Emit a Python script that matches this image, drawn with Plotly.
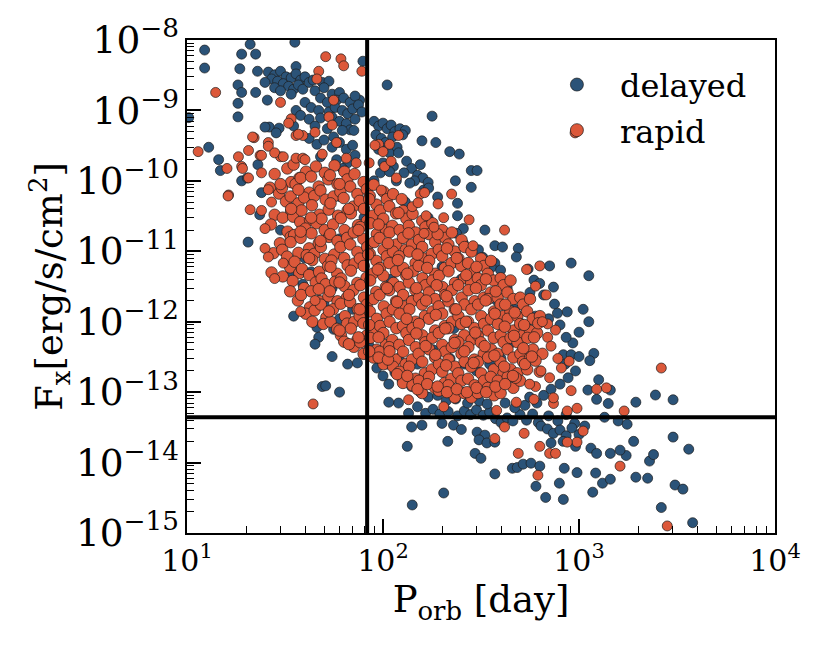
import plotly.graph_objects as go

# X-ray flux vs orbital period, two supernova engine models
# values are (P_orb [day], F_x [erg/s/cm^2])

P_CUT = 83.0       # vertical cut in period
FX_CUT = 4.4e-14   # horizontal flux limit

delayed_upper = [
    (12.3, 7.2e-9), (12.3, 4.0e-9), (19, 6.3e-9), (22.4, 6.3e-9), (21, 8.7e-9), (18.6, 3.9e-9),
    (22.9, 3.6e-9), (18.2, 2.3e-9), (19, 1.8e-9), (22.4, 1.8e-9), (18.2, 1.26e-9), (35.5, 9.3e-9),
    (79, 5.0e-9), (36, 4.2e-9), (25.7, 1.4e-9), (105, 2.3e-9), (76, 1.4e-9),
    (26, 3.5e-9), (28, 3.2e-9), (30, 3.6e-9), (32, 3.0e-9), (27, 2.8e-9), (29, 2.6e-9), (31, 2.4e-9),
    (34, 2.9e-9), (36, 3.3e-9), (38, 2.7e-9), (33, 2.2e-9), (35, 2.0e-9), (25, 2.5e-9), (28, 2.1e-9),
    (37, 2.3e-9), (39, 2.0e-9), (30, 1.9e-9), (34, 1.7e-9), (40, 3.0e-9), (42, 2.5e-9), (44, 2.7e-9),
    (49, 2.5e-9), (53, 2.6e-9),
    (45, 1.9e-9), (50, 2.1e-9), (55, 1.7e-9), (60, 1.8e-9), (48, 1.5e-9), (52, 1.3e-9), (58, 1.4e-9),
    (63, 1.5e-9), (68, 1.3e-9), (72, 1.6e-9), (40, 1.3e-9), (43, 1.1e-9), (47, 1.0e-9), (53, 9.5e-10),
    (57, 1.1e-9), (62, 1.0e-9), (66, 9.0e-10), (70, 1.05e-9), (75, 1.2e-9), (78, 9.5e-10), (36, 1.0e-9),
    (38, 8.5e-10), (42, 7.5e-10), (48, 7.8e-10), (55, 8.0e-10), (60, 7.0e-10), (65, 6.5e-10),
    (72, 7.5e-10), (35, 6.0e-10), (45, 6.0e-10), (52, 5.5e-10), (68, 5.3e-10),
    (10.2, 7.9e-10), (12.9, 3.0e-10), (14.5, 2.0e-10), (14.8, 1.4e-10), (23, 1.7e-10), (19, 1.0e-10),
    (24, 6.8e-11), (18.2, 8.1e-10), (26.3, 5.8e-10), (29.5, 5.6e-10), (20.3, 1.1e-10), (23.5, 3.3e-11),
    (20.5, 1.35e-11), (25, 5.8e-10), (28.5, 4.8e-10),
    (42, 4.0e-10), (46, 3.3e-10), (50, 3.8e-10), (55, 3.0e-10), (60, 3.5e-10), (65, 2.8e-10),
    (70, 3.2e-10), (48, 2.2e-10), (58, 2.0e-10), (66, 1.8e-10), (72, 2.3e-10), (62, 1.5e-10),
    (56, 4.2e-10), (62, 5.2e-10), (71, 5.2e-10),
]

delayed_right = [
    (90, 7.0e-10), (95, 6.0e-10), (100, 6.6e-10), (105, 5.5e-10), (110, 6.2e-10), (115, 5.0e-10),
    (92, 4.5e-10), (98, 4.0e-10), (103, 3.5e-10), (112, 4.2e-10), (95, 2.8e-10), (108, 2.5e-10),
    (118, 3.0e-10), (100, 1.8e-10), (113, 1.6e-10),
    (178, 8.3e-10), (122, 5.5e-10), (130, 5.2e-10), (126, 4.5e-10), (158, 3.7e-10), (186, 3.5e-10),
    (219, 2.6e-10), (245, 2.4e-10), (120, 2.5e-10), (132, 1.9e-10), (140, 1.5e-10), (150, 1.2e-10),
    (160, 1.1e-10), (170, 9.5e-11), (145, 1.0e-10), (155, 1.7e-10), (128, 1.3e-10), (282, 1.4e-10),
    (302, 1.4e-10), (234, 1.0e-10), (282, 8.1e-11), (190, 5.9e-11), (240, 4.8e-11), (240, 3.2e-11),
    (257, 2.1e-11), (331, 2.0e-11), (372, 1.2e-11), (407, 1.15e-11), (490, 1.1e-11), (479, 8.3e-12),
    (372, 6.8e-12), (550, 5.6e-12), (708, 6.2e-12), (912, 6.8e-12), (1122, 4.5e-12), (589, 3.9e-12),
    (741, 3.1e-12), (562, 2.6e-12),
    (161, 7.4e-11), (171, 7.9e-11), (137, 9.3e-11), (97, 1.3e-10), (108, 1.35e-10), (117, 1.0e-10),
    (237, 1.8e-11), (257, 1.3e-11), (307, 1.05e-11), (323, 8.2e-12), (350, 7.0e-12), (357, 5.9e-12),
    (398, 5.4e-12), (630, 3.5e-12), (500, 2.2e-12),
]

delayed_lower = [
    (750, 1.78e-12), (871, 1.38e-12), (776, 1.32e-12), (1122, 1.0e-12), (1000, 7.1e-13),
    (1190, 3.55e-13), (1135, 2.8e-13), (832, 3.4e-13), (912, 3.4e-13), (1000, 3.2e-13),
    (1260, 1.5e-13), (1110, 1.07e-13), (1230, 7.9e-14), (1410, 6.9e-14), (1445, 1.07e-13),
    (1950, 7.2e-14), (2455, 9.1e-14), (3020, 7.8e-14), (1585, 3.9e-14), (1760, 3.5e-14),
    (1350, 4.4e-14), (140, 3.2e-14), (158, 3.4e-14), (133, 1.7e-14), (214, 2.0e-14), (200, 3.6e-14),
    (229, 3.4e-14), (251, 2.95e-14), (302, 2.7e-14), (331, 2.45e-14), (309, 2.1e-14), (339, 1.9e-14),
    (372, 1.95e-14), (295, 1.35e-14), (316, 1.15e-14), (372, 6.9e-15), (457, 8.3e-15), (484, 8.5e-15),
    (519, 9.5e-15), (569, 9.8e-15), (631, 8.9e-15), (841, 8.3e-15), (977, 7.2e-15), (603, 4.6e-15),
    (794, 5.1e-15), (676, 3.2e-15), (832, 3.0e-15), (204, 3.7e-15), (141, 2.5e-15), (1175, 3.8e-15),
    (1216, 7.1e-15), (1318, 5.1e-15), (1445, 5.8e-15), (1950, 6.2e-15), (2240, 6.0e-15),
    (2290, 1.05e-14), (2400, 1.3e-14), (1740, 1.26e-14), (1445, 1.35e-14), (1620, 1.5e-14),
    (1150, 1.6e-14), (1230, 1.35e-14), (1900, 2.0e-14), (3020, 2.3e-14), (3630, 1.55e-14),
    (3090, 4.8e-15), (3390, 4.2e-15), (2630, 2.3e-15), (3800, 1.4e-15),
    (120, 7.0e-14), (135, 5.0e-14), (150, 6.2e-14), (165, 5.0e-14), (180, 5.7e-14), (195, 4.9e-14),
    (215, 5.3e-14), (240, 4.6e-14), (260, 5.4e-14), (280, 4.8e-14), (300, 5.6e-14), (325, 4.7e-14),
    (350, 5.2e-14), (375, 4.2e-14), (400, 3.7e-14), (430, 4.3e-14), (460, 3.9e-14), (500, 4.8e-14),
    (540, 4.0e-14), (580, 4.9e-14), (620, 3.7e-14), (700, 4.6e-14), (780, 3.9e-14), (860, 4.8e-14),
    (950, 3.6e-14),
    (640, 3.3e-14), (690, 3.0e-14), (740, 2.6e-14), (800, 2.9e-14), (860, 2.4e-14), (920, 3.1e-14),
    (1000, 2.5e-14), (1070, 3.3e-14), (720, 1.9e-14), (830, 2.0e-14), (960, 1.7e-14),
    (105, 2.5e-13), (115, 1.9e-13), (125, 1.5e-13), (140, 1.2e-13), (155, 1.0e-13), (170, 8.5e-14),
    (190, 9.0e-14), (210, 7.5e-14), (235, 8.0e-14), (270, 7.0e-14), (310, 7.5e-14), (340, 6.8e-14),
    (420, 7.0e-14), (470, 6.0e-14), (530, 6.5e-14), (560, 8.5e-14), (610, 7.0e-14), (660, 9.0e-14),
    (720, 1.1e-13), (800, 1.3e-13), (880, 1.6e-13), (960, 2.0e-13), (850, 2.5e-13), (930, 5.0e-13),
    (860, 6.0e-13), (800, 9.0e-13), (1050, 1.5e-12), (660, 2.4e-12), (700, 1.1e-12),
    (34, 4.6e-12), (39, 3.4e-12), (35, 1.2e-12), (46, 8.3e-13), (47, 6.0e-13), (45, 4.8e-13),
    (55, 3.2e-13), (66, 2.5e-13), (74, 2.6e-13), (49, 1.2e-13), (60, 1.0e-13), (107, 7.2e-14),
    (93, 2.2e-13), (100, 1.7e-13), (107, 1.3e-13), (60, 1.1e-12), (56, 7.8e-13), (47, 2.0e-12),
    (50, 1.8e-12), (43, 5.1e-12), (47, 5.0e-12), (51, 1.23e-13), (80, 3.5e-13), (85, 4.5e-13),
]

delayed_core = [
    (30, 2e-11), (40, 8e-12), (55, 3e-12), (70, 1.5e-12), (85, 7e-13), (120, 3e-13), (150, 2.5e-13),
    (180, 4e-13), (220, 3e-13), (260, 2.5e-13), (300, 2e-13), (350, 2.5e-13), (400, 3e-13),
    (450, 5e-13), (500, 6e-13), (550, 8e-13), (600, 1.2e-12), (45, 3e-11), (60, 1.5e-11), (80, 8e-12),
    (110, 4e-12), (140, 2e-12), (180, 1.2e-12), (230, 8e-13), (280, 6e-13), (330, 1e-12),
    (380, 2e-12), (430, 3e-12), (470, 1.5e-12), (60, 6e-11), (80, 3e-11), (110, 2e-11), (150, 1e-11),
    (200, 6e-12), (250, 4e-12), (300, 3e-12), (90, 1e-10), (130, 5e-11), (170, 3e-11),
]

rapid_outer = [
    (51, 5.8e-9), (61, 5.4e-9), (63, 4.3e-9), (78, 3.6e-9), (47, 3.6e-9), (46, 2.8e-9), (14, 1.8e-9),
    (30, 1.3e-9), (56, 1.4e-9), (53, 8.1e-10), (55, 6.2e-10), (34, 7.6e-10), (36, 4.4e-10),
    (39, 4.4e-10), (45, 4.9e-10), (22, 4.1e-10), (26, 3.5e-10), (26, 3.1e-10), (11.4, 2.6e-10),
    (18.3, 2.2e-10), (20.6, 2.7e-10), (23.6, 2.3e-10), (30, 2.2e-10), (19, 1.6e-10), (16, 1.5e-10),
    (20.6, 1.1e-10), (16.3, 6.3e-11), (21, 3.9e-11), (36, 2.1e-10), (39, 2.1e-10), (49, 2.4e-10),
    (58, 3.5e-10), (65, 2.1e-10), (73, 1.8e-10), (33, 6.6e-10), (37, 4.6e-10),
    (24, 3.8e-11), (25, 2.1e-11), (25, 1.1e-11), (26, 8.3e-12), (28, 4.1e-12), (31, 6.8e-12),
    (24, 2.3e-10), (28, 2.5e-10), (31, 2.2e-10), (40, 2.0e-10), (21.6, 4.2e-10), (19.2, 1.5e-10),
    (16.2, 6.1e-11), (24, 1.3e-10), (26, 7.5e-11), (27, 5.0e-11),
    (120, 4.4e-10), (95, 3.3e-10), (108, 3.3e-10), (85, 1.8e-10), (102, 1.6e-10), (155, 6.5e-11),
    (163, 6.8e-11), (224, 6.5e-11), (191, 4.7e-11), (275, 2.8e-11), (417, 2.0e-11), (288, 1.2e-11),
    (631, 6.2e-12), (955, 4.8e-10), (141, 4.3e-11), (166, 3.2e-11), (151, 4.9e-11), (204, 3.0e-11),
    (182, 2.2e-11), (162, 1.8e-11), (91, 3.2e-10), (100, 2.6e-10), (110, 1.9e-10), (117, 1.1e-10),
    (98, 7.4e-11),
    (2630, 2.2e-13), (1700, 5.4e-14), (1380, 1.15e-13), (1230, 1.1e-13), (912, 1.05e-13),
    (977, 5.9e-14), (871, 5.4e-14), (1050, 2.8e-14), (977, 1.95e-14), (871, 1.95e-14), (631, 1.7e-14),
    (708, 1.35e-14), (759, 1.35e-14), (490, 1.35e-14), (525, 2.6e-14), (372, 2.2e-14), (417, 3.2e-14),
    (617, 6.6e-15), (1620, 8.9e-15), (2820, 1.26e-15), (741, 6.9e-14), (741, 8.3e-14), (479, 7.2e-14),
    (380, 5.5e-14), (692, 9.3e-13), (759, 7.6e-13), (692, 6.0e-13), (891, 2.75e-13), (813, 2.2e-13),
    (708, 1.6e-13), (589, 7.9e-14), (135, 7.8e-14), (204, 6.2e-14), (44, 6.8e-14), (38, 1.4e-12),
    (45, 2.0e-12), (600, 3.2e-12), (680, 2.4e-12), (540, 5.5e-12), (650, 1.0e-12), (720, 4.5e-13),
    (780, 3.0e-13), (640, 2.0e-13), (600, 1.2e-13), (560, 1.3e-13),
]

rapid_core = [
    (28, 1.25e-10), (26.5, 8.0e-11), (29.5, 6.6e-11), (28, 3.3e-11), (26.8, 2.4e-11), (29.8, 1.3e-11),
    (27.6, 9.4e-12), (27, 5.0e-12),
    (32.5, 1.5e-10), (34, 9.6e-11), (30.5, 7.9e-11), (32, 5.1e-11), (34, 3.7e-11), (30.8, 3.0e-11),
    (32.6, 1.9e-11), (33.8, 1.6e-11), (30.6, 1.05e-11), (32.4, 8.4e-12), (33.6, 5.9e-12), (30.8, 4.4e-12),
    (35, 1.7e-10), (37.5, 1.1e-10), (35.8, 9.0e-11), (33.8, 6.0e-11), (37, 4.8e-11), (34.8, 3.1e-11),
    (37.8, 2.6e-11), (35.2, 1.7e-11), (33.8, 1.35e-11), (37, 9.5e-12), (35.4, 7.1e-12), (37.4, 4.9e-12),
    (34.6, 3.8e-12), (33.6, 2.7e-12), (36.8, 2.0e-12),
    (40.5, 1.35e-10), (38, 1.1e-10), (42, 6.8e-11), (39.6, 5.8e-11), (38.4, 3.8e-11), (42.4, 2.8e-11),
    (40.2, 2.1e-11), (38, 1.55e-11), (42, 1.1e-11), (40.8, 8.8e-12), (38.6, 5.6e-12), (42, 4.6e-12),
    (39.6, 3.0e-12), (38.2, 2.4e-12), (42.4, 1.6e-12), (40.4, 1.3e-12),
    (45.5, 1.6e-10), (43, 1.15e-10), (47, 8.3e-11), (44.6, 6.1e-11), (43.4, 4.5e-11), (47.4, 3.3e-11),
    (45.8, 2.5e-11), (43.2, 1.8e-11), (47, 1.3e-11), (44.6, 9.2e-12), (43.6, 7.5e-12), (47.2, 5.1e-12),
    (45.4, 3.6e-12), (43, 2.7e-12), (47.6, 1.95e-12), (44.8, 1.45e-12), (43.6, 1.0e-12),
    (50.5, 1.3e-10), (52.6, 1.05e-10), (48, 7.3e-11), (51, 5.4e-11), (52.8, 3.9e-11), (48.6, 2.9e-11),
    (50.4, 2.0e-11), (53, 1.6e-11), (48.2, 1.15e-11), (50.6, 7.8e-12), (52.4, 6.2e-12), (48.6, 4.1e-12),
    (51, 3.4e-12), (52.6, 2.3e-12), (48.2, 1.75e-12), (51.4, 1.15e-12), (49.6, 9.3e-13),
    (56.6, 1.65e-10), (53.6, 1.2e-10), (58.6, 9.0e-11), (56, 6.0e-11), (54, 4.8e-11), (59, 3.2e-11),
    (55.6, 2.4e-11), (53.8, 1.75e-11), (58.6, 1.4e-11), (56.4, 9.0e-12), (54.6, 7.4e-12), (58.4, 4.8e-12),
    (57, 3.7e-12), (53.6, 2.7e-12), (58.6, 1.95e-12), (55.6, 1.5e-12), (54, 1.0e-12), (58.4, 7.9e-13),
    (63.6, 1.35e-10), (65.8, 1.05e-10), (60.6, 7.0e-11), (63, 5.7e-11), (66, 3.8e-11), (61, 2.95e-11),
    (63.6, 2.0e-11), (65.6, 1.55e-11), (60.6, 1.15e-11), (63.4, 8.0e-12), (66, 6.3e-12), (61.2, 4.1e-12),
    (63.6, 3.2e-12), (65.4, 2.2e-12), (60.8, 1.8e-12), (64, 1.2e-12), (65.6, 9.4e-13), (61, 6.4e-13),
    (63.4, 5.2e-13),
    (71.6, 1.25e-10), (68, 8.3e-11), (74, 6.5e-11), (70.4, 4.3e-11), (68.6, 3.45e-11), (74.6, 2.35e-11),
    (71, 1.85e-11), (68, 1.25e-11), (74, 9.8e-12), (71.6, 6.7e-12), (68.6, 5.3e-12), (74, 3.55e-12),
    (70.6, 2.8e-12), (68, 1.9e-12), (74.4, 1.5e-12), (71.4, 1.0e-12), (68.6, 8.0e-13), (74, 5.5e-13),
    (71, 4.4e-13),
    (79.6, 9.6e-11), (82.6, 7.6e-11), (76, 5.2e-11), (80, 4.0e-11), (82.8, 2.7e-11), (76.6, 2.2e-11),
    (79.4, 1.5e-11), (83, 1.15e-11), (76.2, 7.9e-12), (79.8, 6.2e-12), (82.4, 4.2e-12), (76.6, 3.3e-12),
    (80, 2.2e-12), (82.6, 1.75e-12), (76, 1.2e-12), (79.4, 9.5e-13), (82.8, 6.4e-13), (76.6, 5.1e-13),
    (79.6, 3.5e-13),
    (89.6, 8.8e-11), (85.6, 6.1e-11), (92.6, 4.6e-11), (88.6, 3.2e-11), (86, 2.5e-11), (93, 1.75e-11),
    (90, 1.35e-11), (85.6, 9.2e-12), (92.6, 7.3e-12), (88.6, 4.8e-12), (86, 3.85e-12), (92.4, 2.65e-12),
    (89.4, 2.1e-12), (85.6, 1.4e-12), (93, 1.1e-12), (88.6, 7.5e-13), (86, 5.9e-13), (92.6, 4.0e-13),
    (89.4, 3.1e-13),
    (100.6, 7.0e-11), (104.6, 5.5e-11), (96.6, 3.8e-11), (100.4, 2.9e-11), (103.6, 2.0e-11), (96, 1.55e-11),
    (100.6, 1.05e-11), (104.6, 8.5e-12), (96.6, 5.8e-12), (100.4, 4.5e-12), (103.4, 3.1e-12), (96, 2.4e-12),
    (101, 1.65e-12), (104.4, 1.3e-12), (96.6, 8.7e-13), (100.4, 6.9e-13), (103.6, 4.7e-13), (96, 3.75e-13),
    (100.6, 2.5e-13),
    (112.6, 6.5e-11), (107.6, 4.35e-11), (116.6, 3.45e-11), (111.6, 2.3e-11), (108, 1.85e-11),
    (117, 1.25e-11), (112.4, 9.9e-12), (107.6, 6.8e-12), (116.4, 5.2e-12), (113, 3.55e-12),
    (107.6, 2.8e-12), (116.6, 1.95e-12), (112.4, 1.5e-12), (108, 1.0e-12), (117, 8.1e-13),
    (111.6, 5.5e-13), (107.6, 4.35e-13), (116.4, 2.9e-13), (112.6, 2.3e-13),
    (124.6, 5.5e-11), (126.6, 3.75e-11), (131.6, 2.9e-11), (121.6, 2.0e-11), (126.4, 1.55e-11),
    (130.6, 1.05e-11), (121, 8.5e-12), (127, 5.8e-12), (131.4, 4.5e-12), (121.6, 3.1e-12),
    (126.6, 2.4e-12), (130.4, 1.65e-12), (121.6, 1.3e-12), (126.4, 8.7e-13), (131.6, 6.9e-13),
    (121, 4.7e-13), (126.6, 3.75e-13), (130.4, 2.5e-13), (121.6, 1.95e-13), (126.4, 1.35e-13),
    (141.6, 3.4e-11), (135.4, 2.3e-11), (146.6, 1.85e-11), (140.6, 1.25e-11), (136, 9.9e-12),
    (146.6, 6.8e-12), (142, 5.2e-12), (135.6, 3.6e-12), (146.4, 2.8e-12), (140.6, 1.95e-12),
    (136.4, 1.5e-12), (146.6, 1.0e-12), (141.4, 8.1e-13), (135.6, 5.5e-13), (147, 4.35e-13),
    (140.6, 2.9e-13), (136, 2.3e-13), (146.6, 1.55e-13), (141.4, 1.25e-13),
    (158.6, 2.7e-11), (164.6, 2.2e-11), (152.6, 1.45e-11), (158.4, 1.15e-11), (163.6, 7.9e-12),
    (152, 6.2e-12), (159, 4.15e-12), (164.6, 3.3e-12), (152.6, 2.2e-12), (158.4, 1.75e-12),
    (163.6, 1.2e-12), (152.6, 9.3e-13), (158.6, 6.4e-13), (164.4, 5.1e-13), (152, 3.5e-13),
    (158.6, 2.7e-13), (163.6, 1.85e-13), (152.6, 1.45e-13), (158.4, 9.7e-14),
    (178.6, 2.5e-11), (171.6, 1.75e-11), (184.6, 1.35e-11), (177.6, 9.2e-12), (172, 7.3e-12),
    (185, 4.8e-12), (178.6, 3.85e-12), (171.6, 2.6e-12), (184.4, 2.1e-12), (179, 1.4e-12),
    (171.6, 1.1e-12), (184.6, 7.5e-13), (178.4, 5.9e-13), (172, 4.05e-13), (184.6, 3.1e-13),
    (177.6, 2.1e-13), (171.6, 1.65e-13), (184.4, 1.15e-13),
    (200.6, 2.0e-11), (207.6, 1.55e-11), (192.6, 1.05e-11), (200.4, 8.5e-12), (206.6, 5.8e-12),
    (193, 4.5e-12), (201, 3.1e-12), (207.6, 2.4e-12), (192.6, 1.65e-12), (200.4, 1.3e-12),
    (206.6, 8.7e-13), (192.6, 6.9e-13), (200.6, 4.7e-13), (207.4, 3.75e-13), (193, 2.5e-13),
    (200.6, 1.95e-13), (206.6, 1.35e-13), (192.6, 1.05e-13),
    (224.6, 1.85e-11), (215.6, 1.25e-11), (232.6, 9.9e-12), (223.6, 6.8e-12), (216, 5.2e-12),
    (233, 3.55e-12), (224.6, 2.8e-12), (215.6, 1.95e-12), (232.4, 1.5e-12), (225, 1.0e-12),
    (215.6, 8.1e-13), (232.6, 5.5e-13), (224.4, 4.35e-13), (216, 2.9e-13), (232.6, 2.3e-13),
    (223.6, 1.55e-13), (215.6, 1.25e-13), (232.4, 8.4e-14),
    (251.6, 1.45e-11), (260.6, 1.15e-11), (242.6, 7.9e-12), (250.6, 6.2e-12), (259.6, 4.15e-12),
    (242, 3.3e-12), (252, 2.2e-12), (260.6, 1.75e-12), (242.6, 1.2e-12), (250.6, 9.3e-13),
    (259.6, 6.4e-13), (242.6, 5.1e-13), (251.4, 3.5e-13), (260.6, 2.7e-13), (242, 1.85e-13),
    (251.4, 1.45e-13), (259.6, 9.7e-14),
    (282.6, 9.9e-12), (271.6, 6.8e-12), (292.6, 5.2e-12), (281.6, 3.55e-12), (273, 2.8e-12),
    (293.6, 1.95e-12), (282.6, 1.5e-12), (271.6, 1.0e-12), (292.6, 8.1e-13), (283, 5.5e-13),
    (272.6, 4.35e-13), (292.4, 2.9e-13), (281.6, 2.3e-13), (271.6, 1.55e-13), (293.6, 1.25e-13),
    (282.4, 8.4e-14),
    (316.6, 7.9e-12), (327.6, 6.2e-12), (304.6, 4.15e-12), (315.6, 3.3e-12), (326.6, 2.2e-12),
    (305.6, 1.75e-12), (317, 1.2e-12), (327.6, 9.3e-13), (304.6, 6.4e-13), (315.6, 5.1e-13),
    (326.6, 3.5e-13), (305.6, 2.7e-13), (316.4, 1.85e-13), (327.6, 1.45e-13), (304.6, 9.7e-14),
    (355.6, 7.3e-12), (342.6, 4.8e-12), (367.6, 3.85e-12), (354.6, 2.6e-12), (344, 2.1e-12),
    (368.6, 1.4e-12), (355.6, 1.1e-12), (342.6, 7.5e-13), (367.6, 5.9e-13), (356, 4.05e-13),
    (343.6, 3.1e-13), (367.4, 2.1e-13), (354.6, 1.65e-13), (342.6, 1.15e-13), (368.6, 9.0e-14),
    (398.6, 4.15e-12), (412.6, 3.3e-12), (384.6, 2.2e-12), (397.6, 1.75e-12), (411.6, 1.2e-12),
    (385.6, 9.3e-13), (399, 6.4e-13), (412.6, 5.1e-13), (384.6, 3.5e-13), (397.6, 2.7e-13),
    (411.6, 1.85e-13), (385.6, 1.45e-13), (398.4, 9.7e-14),
    (447.6, 3.85e-12), (431.6, 2.6e-12), (462.6, 2.1e-12), (446.6, 1.4e-12), (433, 1.1e-12),
    (463.6, 7.5e-13), (447.6, 5.9e-13), (431.6, 4.05e-13), (462.6, 3.1e-13), (448, 2.1e-13),
    (432.6, 1.65e-13), (462.4, 1.15e-13),
    (501.6, 2.2e-12), (518.6, 1.75e-12), (484.6, 1.2e-12), (500.6, 9.3e-13), (517.6, 6.4e-13),
    (485.6, 5.1e-13), (502, 3.5e-13), (518.6, 2.7e-13), (484.6, 1.85e-13), (500.6, 1.45e-13),
    (562.6, 2.1e-12), (543.6, 1.4e-12), (580.6, 1.1e-12), (561.6, 7.5e-13), (545, 5.9e-13),
    (581.6, 4.05e-13), (562.6, 3.1e-13), (543.6, 2.1e-13),
    (631.6, 1.2e-12), (611.6, 6.9e-13), (650.6, 3.5e-13), (630.6, 1.95e-13),
]

rapid_fill = [
    (30, 9.0e-11), (34, 4.0e-11), (38, 1.9e-11), (42, 8.0e-12), (47, 2.9e-12), (53, 1.4e-12),
    (60, 7.5e-13), (67, 4.8e-13), (75, 6.0e-13), (85, 3.8e-13), (95, 3.1e-13), (106, 2.9e-13),
    (118, 1.8e-13), (133, 1.7e-13), (150, 1.1e-13), (168, 1.3e-13), (190, 1.2e-13), (212, 1.0e-13),
    (238, 1.1e-13), (268, 1.0e-13), (300, 1.15e-13), (336, 1.0e-13), (375, 1.2e-13), (420, 1.3e-13),
    (475, 1.6e-13), (530, 2.5e-13), (600, 2.8e-13),
    (37, 7.5e-11), (43, 3.0e-11), (48, 1.4e-11), (54, 6.0e-12), (60, 3.6e-12), (67, 2.4e-12),
    (76, 1.5e-12), (85, 9.0e-13), (95, 6.0e-13), (108, 3.8e-13), (60, 9.0e-11), (67, 4.0e-11),
    (75, 2.0e-11), (84, 9.0e-12), (94, 5.5e-12), (105, 3.0e-12), (118, 1.9e-12), (132, 1.1e-12),
    (148, 6.8e-13), (165, 4.5e-13), (185, 3.4e-13), (210, 2.4e-13), (85, 5.5e-11), (95, 2.4e-11),
    (106, 1.3e-11), (119, 7.5e-12), (133, 4.8e-12), (148, 3.0e-12), (166, 2.0e-12), (186, 1.25e-12),
    (208, 8.0e-13), (232, 5.0e-13), (260, 3.8e-13), (290, 2.6e-13), (120, 3.5e-11), (135, 1.8e-11),
    (150, 9.0e-12), (168, 5.8e-12), (188, 3.3e-12), (211, 2.3e-12), (236, 1.5e-12), (265, 1.0e-12),
    (296, 7.0e-13), (330, 4.5e-13), (370, 3.3e-13), (415, 2.3e-13), (460, 1.7e-13), (190, 1.75e-11),
    (212, 1.1e-11), (238, 8.0e-12), (266, 4.6e-12), (298, 3.0e-12), (334, 2.0e-12), (372, 1.3e-12),
    (418, 8.5e-13), (466, 6.3e-13), (520, 4.2e-13), (575, 3.2e-13), (300, 6.0e-12), (335, 4.0e-12),
    (376, 2.7e-12), (420, 1.75e-12), (470, 1.35e-12), (525, 9.0e-13), (590, 6.0e-13), (620, 9.5e-13),
]

delayed = delayed_upper + delayed_right + delayed_lower + delayed_core
rapid_sparse = rapid_outer
rapid_dense = rapid_core + rapid_fill
p_delayed = [p for p, f in delayed]
fx_delayed = [f for p, f in delayed]
p_rapid_sparse = [p for p, f in rapid_sparse]
fx_rapid_sparse = [f for p, f in rapid_sparse]
p_rapid_dense = [p for p, f in rapid_dense]
fx_rapid_dense = [f for p, f in rapid_dense]

x_ticks = [10, 100, 1000, 10000]
x_ticktext = ["10<sup>1</sup>", "10<sup>2</sup>", "10<sup>3</sup>", "10<sup>4</sup>"]

BLUE = "#2b5378"
RED = "#dc583a"
EDGE = "#1c1c1c"
MSIZE = 10
EDGE_W = 0.7

fig = go.Figure()
fig.add_trace(go.Scatter(x=p_delayed, y=fx_delayed, mode="markers", showlegend=False,
                         marker=dict(size=MSIZE, color=BLUE, line=dict(width=EDGE_W, color=EDGE))))
# the crowded middle of the rapid cloud is drawn a bit larger so it reads as one mass
fig.add_trace(go.Scatter(x=p_rapid_dense, y=fx_rapid_dense, mode="markers", showlegend=False,
                         marker=dict(size=11.5, color=RED, line=dict(width=EDGE_W, color=EDGE))))
fig.add_trace(go.Scatter(x=p_rapid_sparse, y=fx_rapid_sparse, mode="markers", showlegend=False,
                         marker=dict(size=MSIZE, color=RED, line=dict(width=EDGE_W, color=EDGE))))
# bigger markers for the legend only
fig.add_trace(go.Scatter(x=[None], y=[None], mode="markers", name="delayed", legendgroup="d",
                         marker=dict(size=13, color=BLUE, line=dict(width=EDGE_W, color=EDGE))))
fig.add_trace(go.Scatter(x=[None], y=[None], mode="markers", name="rapid", legendgroup="r",
                         marker=dict(size=13, color=RED, line=dict(width=EDGE_W, color=EDGE))))

fig.add_vline(x=P_CUT, line=dict(color="black", width=4), layer="above")
fig.add_hline(y=FX_CUT, line=dict(color="black", width=4), layer="above")

axis_style = dict(
    type="log", exponentformat="power",
    showgrid=False, zeroline=False,
    showline=True, linecolor="black", linewidth=2, mirror=True,
    ticks="inside", ticklen=14, tickwidth=1.5, tickcolor="black",
    tickfont=dict(size=30, color="black"),
    minor=dict(ticks="inside", ticklen=7, tickwidth=1.2, tickcolor="black", dtick="D1", showgrid=False),
)
fig.update_xaxes(range=[1, 4], tickmode="array", tickvals=x_ticks, ticktext=x_ticktext,
                 title=dict(text="P<sub>orb</sub> [day]", font=dict(size=37), standoff=4),
                 **axis_style)
fig.update_yaxes(range=[-15, -8], dtick=1,
                 title=dict(text="F<sub>x</sub>[erg/s/cm<sup>2</sup>]", font=dict(size=37), standoff=0),
                 **axis_style)

fig.update_layout(
    template="none",
    width=830, height=664,
    font=dict(family="DejaVu Serif", color="black"),
    paper_bgcolor="white", plot_bgcolor="white",
    margin=dict(l=179, r=63, t=32, b=139),
    legend=dict(x=0.59, y=0.965, xanchor="left", yanchor="top", bgcolor="rgba(0,0,0,0)",
                font=dict(size=32), tracegroupgap=1, itemwidth=76),
)

fig.write_html("out.html")
